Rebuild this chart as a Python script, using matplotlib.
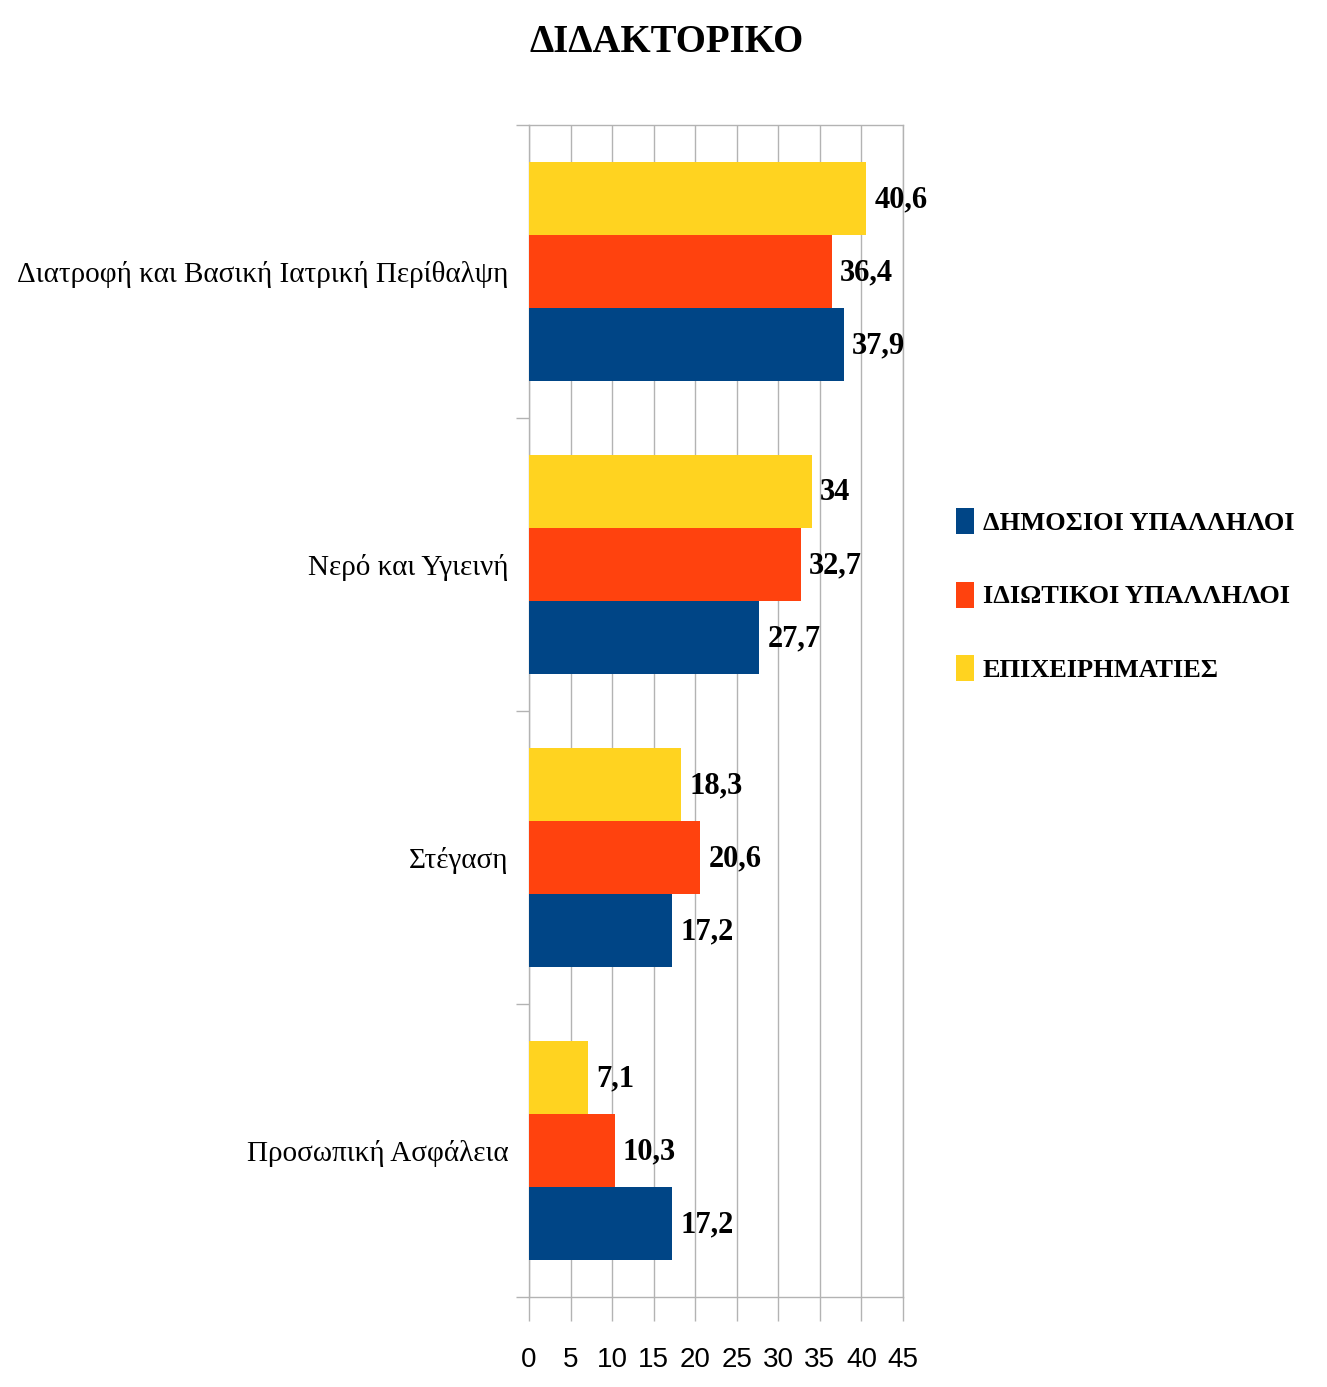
import matplotlib
matplotlib.use("Agg")
import matplotlib.pyplot as plt
import numpy as np

title = "ΔΙΔΑΚΤΟΡΙΚΟ"
categories = ["Διατροφή και Βασική Ιατρική Περίθαλψη", "Νερό και Υγιεινή",
              "Στέγαση", "Προσωπική Ασφάλεια"]
series_names = ["ΔΗΜΟΣΙΟΙ ΥΠΑΛΛΗΛΟΙ", "ΙΔΙΩΤΙΚΟΙ ΥΠΑΛΛΗΛΟΙ", "ΕΠΙΧΕΙΡΗΜΑΤΙΕΣ"]
dimosioi = [37.9, 27.7, 17.2, 17.2]
idiotikoi = [36.4, 32.7, 20.6, 10.3]
epixeirimaties = [40.6, 34, 18.3, 7.1]
value_labels = [["37,9", "27,7", "17,2", "17,2"],
                ["36,4", "32,7", "20,6", "10,3"],
                ["40,6", "34", "18,3", "7,1"]]
xticks = [0, 5, 10, 15, 20, 25, 30, 35, 40, 45]
colors = ["#004586", "#ff420e", "#ffd320"]

serif = ["Liberation Serif", "DejaVu Serif"]
sans = ["Liberation Sans", "DejaVu Sans"]

fig = plt.figure(figsize=(13.27, 13.87), dpi=100)
ax = fig.add_axes([529/1327, 1-1297/1387, 374/1327, (1297-125)/1387])

y = np.arange(len(categories))
h = 0.25
offsets = [0.25, 0.0, -0.25]
data = [dimosioi, idiotikoi, epixeirimaties]
for vals, off, col, name, labs in zip(data, offsets, colors, series_names, value_labels):
    bars = ax.barh(y + off, vals, height=h, color=col, label=name, zorder=3)
    for b, v, t in zip(bars, vals, labs):
        ax.text(v + 1.0, b.get_y() + b.get_height()/2 + 0.005, t, va="center", ha="left",
                fontsize=22, fontweight="bold", family=serif, zorder=4)

ax.set_xlim(0, 45)
ax.set_ylim(3.5, -0.5)
ax.set_xticks(xticks)
ax.set_xticklabels([str(t) for t in xticks], family=sans, fontsize=20)
ax.tick_params(axis="x", direction="out", length=17, color="#b3b3b3", width=1, pad=19)
ax.xaxis.grid(True, color="#b3b3b3", linewidth=1, zorder=0)

ax.set_yticks(y)
ax.set_yticklabels(categories, family=serif, fontsize=21)
ax.tick_params(axis="y", which="major", length=0, pad=15)
ax.set_yticks([-0.5, 0.5, 1.5, 2.5, 3.5], minor=True)
ax.tick_params(axis="y", which="minor", direction="out", length=9.5, color="#b3b3b3", width=1)

for s in ax.spines.values():
    s.set_color("#b3b3b3")
    s.set_linewidth(1)

fig.text(667/1327, 1-42/1387, title, ha="center", va="center", fontsize=28,
         fontweight="bold", family=serif)

handles, labels = ax.get_legend_handles_labels()
leg = fig.legend(handles, labels, loc="center left", bbox_to_anchor=(932/1327, 1-595/1387),
                 frameon=False, prop={"family": serif, "size": 19, "weight": "bold"},
                 handlelength=0.68, handleheight=1.14, handletextpad=0.34, labelspacing=1.75)

fig.savefig("out.png", dpi=100)
